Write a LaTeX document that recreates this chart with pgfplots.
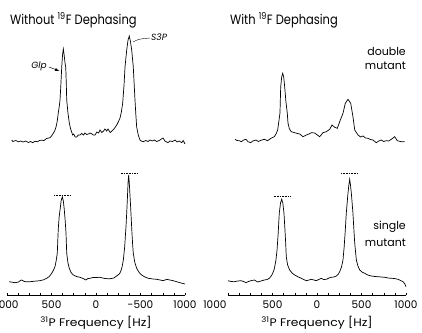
\documentclass[border=0pt]{standalone}
\usepackage{fontspec}
\setmainfont{Poppins}
\newfontfamily\wide[FakeStretch=1.12]{Poppins}
\newfontfamily\narrow[FakeStretch=0.85]{Poppins}
\usepackage{pgfplots}
\pgfplotsset{compat=1.18}
\begin{document}
\begin{tikzpicture}[trim left=0pt, trim right=422pt]
\path (0pt,0pt) -- (0pt,328pt);
\pgfplotsset{
  spec/.style={scale only axis, width=178pt, xmin=-1000, xmax=1000, x dir=reverse, clip=false},
  top/.style={spec, height=125pt, ymin=-5, ymax=120, axis lines=none, anchor=south west},
  bot/.style={spec, height=130pt, ymin=0, ymax=130, anchor=south west,
    axis x line=bottom, axis y line=none, x axis line style={-, line width=0.6pt},
    xtick={-1000,-500,0,500,1000}, minor x tick num=3,
    tick align=inside, major tick length=2.5pt, minor tick length=2.5pt,
    tick style={line width=0.5pt, black},
    xticklabel style={font=\fontsize{10.5}{12}\selectfont, yshift=-2pt},
    xlabel={\textsuperscript{31}P Frequency [Hz]},
    xlabel style={font=\wide\fontsize{11}{12}\selectfont, yshift=-1pt}},
  trace/.style={black, line width=0.7pt, no marks},
  ref/.style={black, densely dotted, line width=0.6pt, no marks},
}
% ---------- top left: without dephasing, double mutant
\begin{axis}[top, at={(7pt,180pt)}]
\addplot[trace] coordinates {
(947,3)(935,1.5)(900,2.5)(870,1.2)(845,2)(820,1)(790,2)(760,0.5)(735,1.5)(710,0.3)
(685,1.8)(660,1.2)(635,2.5)(610,2.8)(585,2.5)(555,4.5)(530,5)(517,5.3)(500,7)(480,9.7)
(465,12)(449,16)(435,22)(424,30)(412,37)(404,43)(395,58)(385,76)(376,88)(367,94)
(358,88)(348,80)(340,76)(334,60)(329,43)(315,30)(300,20)(285,14)(273,11)(262,8)
(250,9)(235,6)(217,6)(200,8)(180,8)(160,9.5)(140,8)(124,10)(105,8.5)(85,9)
(67,10)(45,9)(30,8)(11,8)(-10,11)(-30,10)(-45,13)(-65,10.5)(-85,12)(-101,14)
(-120,12)(-135,14)(-160,10.5)(-191,13)(-210,15)(-233,18)(-250,21)(-270,25)(-285,31)(-300,40)
(-315,58)(-326,76)(-345,93)(-360,103)(-374,107)(-388,101)(-401,93)(-419,76)(-438,43)(-448,28)
(-457,16)(-475,8)(-494,3)(-510,2)(-531,1.3)(-560,2.5)(-585,1.5)(-607,3)(-630,2)(-655,3)
(-682,1.5)(-710,2.5)(-735,4)(-753,5)(-775,2)(-795,1)(-809,0.3)(-830,2)(-860,1.5)(-888,3)
(-910,1)(-935,2)(-963,0.3)(-980,2.5)(-1000,-1)};
\draw[-latex, line width=0.5pt] (axis cs:528,76) -- (axis cs:412,72);
\node[anchor=east, inner sep=1pt, font=\fontsize{9}{10}\selectfont\itshape] at (axis cs:540,77) {Glp};
\draw[line width=0.4pt] (axis cs:-416,101) .. controls (axis cs:-480,104) .. (axis cs:-607,105);
\node[anchor=west, inner sep=1pt, font=\fontsize{9}{10}\selectfont\itshape] at (axis cs:-607,106) {S3P};
\end{axis}
% ---------- top right: with dephasing, double mutant
\begin{axis}[top, at={(228pt,180pt)}]
\addplot[trace] coordinates {
(921,3.7)(900,2.5)(873,2.3)(850,1.3)(825,3)(798,3.7)(775,1.3)(745,0.3)(722,2)(685,3)
(660,1.5)(630,2.7)(592,3.7)(555,2.3)(517,4.7)(480,6.3)(460,9)(442,13)(428,22)(416,30)
(408,56)(397,66)(385,69.7)(374,66)(363,56)(350,42)(334,30)(326,20)(310,14)(289,11.3)
(251,10.3)(220,9.5)(194,9)(157,6.3)(120,8)(90,9)(64,10.3)(26,10)(-30,6.3)(-67,10.3)
(-105,11.3)(-143,13.7)(-169,18)(-199,15.7)(-228,14.7)(-255,21.3)(-292,29.7)(-318,39.7)(-348,43.7)(-379,39.7)
(-404,26.3)(-424,13)(-461,8)(-490,6)(-517,7)(-545,5)(-573,4.7)(-600,3.5)(-629,3)(-666,0.3)
(-695,2)(-723,3)(-750,1.5)(-779,2.3)(-805,2)(-835,3.7)(-873,6.3)(-902,2.3)(-947,1.3)(-985,1.3)};
\end{axis}
% ---------- bottom left: without dephasing, single mutant
\begin{axis}[bot, at={(7pt,33pt)}, xticklabels={1000,-500,0,500,1000}]
\addplot[trace] coordinates {
(975,13.3)(945,12.8)(910,12.3)(870,13)(850,14.5)(835,15)(815,14)(798,13.3)(742,13.3)(690,13.8)
(629,14.3)(590,15.2)(554,16.7)(525,18.5)(498,21.7)(480,24.5)(461,28.3)(448,34)(435,41.7)(424,66)
(414,78)(404,85)(392,94)(379,98.3)(367,94)(356,85)(346,74)(337,62)(329,41.7)(315,32)
(300,26.7)(280,22.5)(255,20)(220,18.5)(180,17.7)(145,16.5)(124,15.5)(115,15)(90,16.5)(67,16.7)
(35,17.5)(0,17.5)(-45,17.7)(-75,17)(-100,16.5)(-135,16.3)(-160,16.3)(-200,17)(-232,19)(-262,21)
(-277,23.3)(-293,28)(-307,35)(-322,48)(-337,68.3)(-345,82)(-352,95)(-360,112)(-367,120)(-374,112)
(-385,95)(-395,78)(-404,62)(-412,50)(-419,41.7)(-435,33)(-457,26.7)(-485,22.5)(-513,20)(-550,18)
(-588,16.7)(-640,16)(-682,15.7)(-720,15)(-756,14.3)(-794,15.7)(-830,15)(-869,14.3)(-905,13.3)(-944,12.3)
(-975,11.5)(-1000,11)};
\addplot[ref] coordinates {(472,99.5)(284,99.5)};
\addplot[ref] coordinates {(-278,121.7)(-475,121.7)};
\end{axis}
% ---------- bottom right: with dephasing, single mutant
\begin{axis}[bot, at={(228pt,33pt)}, xticklabels={1000,500,0,500,{\llap{1000}\kern3pt}}]
\addplot[trace] coordinates {
(1000,14.3)(965,13.5)(929,13.3)(890,14)(854,14.3)(825,13.5)(798,12.3)(770,13.5)(742,14.3)(705,15)
(666,13)(630,14)(592,15)(560,15.5)(536,16.7)(510,19.5)(498,21.7)(480,26)(461,35)(448,46)
(436,62)(424,81.7)(410,92)(397,95.7)(384,92)(371,81.7)(360,65)(352,52)(345,38)(330,30)
(307,25)(280,22)(251,20)(210,18)(176,16.7)(150,15.5)(120,14.3)(90,15)(64,15.7)(35,15)
(8,14.3)(-20,15.5)(-48,16.7)(-75,15.5)(-105,15.7)(-135,17)(-161,17.7)(-190,18)(-217,19)(-240,21)
(-255,23.3)(-275,28)(-292,35)(-305,48)(-318,65)(-329,81.7)(-348,101.7)(-358,110)(-367,115.7)(-376,110)
(-386,101.7)(-404,81.7)(-414,66)(-424,51.7)(-442,35)(-460,29)(-480,25)(-505,23)(-536,21.7)(-570,20)
(-610,19)(-650,18.5)(-685,18.3)(-720,18)(-761,17.7)(-800,17)(-835,16.7)(-870,16.5)(-910,15.7)(-940,14.5)
(-966,13.3)(-985,11.5)(-1000,8.3)};
\addplot[ref] coordinates {(487,98.3)(292,98.3)};
\addplot[ref] coordinates {(-270,121.7)(-464,121.7)};
\end{axis}
% ---------- texts
\node[anchor=base west, inner sep=0pt, font=\narrow\fontsize{13.5}{15}\selectfont] at (10pt,303pt) {Without \textsuperscript{19}F Dephasing};
\node[anchor=base west, inner sep=0pt, font=\narrow\fontsize{13.5}{15}\selectfont] at (230pt,303pt) {With \textsuperscript{19}F Dephasing};
\node[anchor=base east, inner sep=0pt, font=\fontsize{11}{12}\selectfont] at (406pt,272pt) {double};
\node[anchor=base east, inner sep=0pt, font=\fontsize{11}{12}\selectfont] at (406pt,258.7pt) {mutant};
\node[anchor=base east, inner sep=0pt, font=\fontsize{11}{12}\selectfont] at (406pt,99pt) {single};
\node[anchor=base east, inner sep=0pt, font=\fontsize{11}{12}\selectfont] at (406pt,82pt) {mutant};
\end{tikzpicture}
\end{document}
